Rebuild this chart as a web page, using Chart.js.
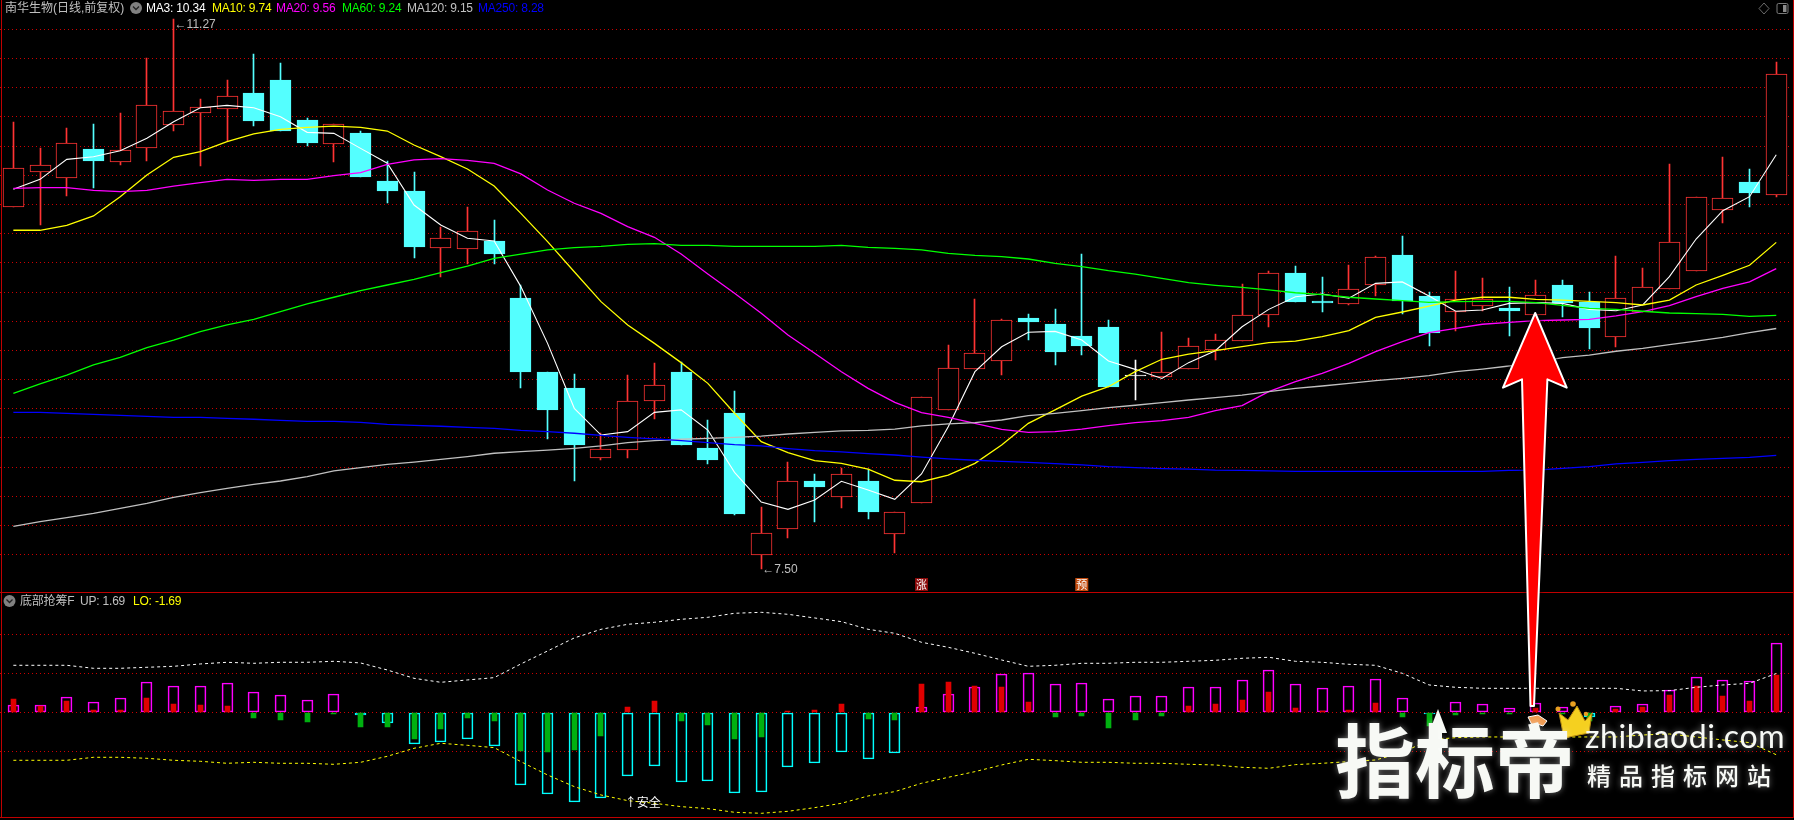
<!DOCTYPE html>
<html lang="zh">
<head>
<meta charset="utf-8">
<title>南华生物</title>
<script src="https://cdn.jsdelivr.net/npm/chart.js@4"></script>
<style>
html,body{margin:0;padding:0;background:#000;width:1794px;height:820px;overflow:hidden}
#stage{position:relative;width:1794px;height:820px;background:#000;overflow:hidden}
canvas{position:absolute;left:0;display:block}
.t{position:absolute;white-space:nowrap;font:12px "Liberation Sans","Noto Sans CJK SC",sans-serif;line-height:14px;letter-spacing:-.2px;color:#c0c0c0}
.rule{position:absolute;background:#c00000}
svg.over{position:absolute;left:0;top:0;pointer-events:none}
.wm{position:absolute;white-space:nowrap;color:#f7f9f5;text-shadow:0 0 6px rgba(255,255,255,.45)}
</style>
</head>
<body>
<div id="stage">
<canvas id="main" width="1794" height="592" style="top:0"></canvas>
<canvas id="sub" width="1794" height="228" style="top:592px"></canvas>

<div class="rule" style="left:1px;top:0;width:1px;height:818px"></div>
<div class="rule" style="left:1793px;top:0;width:1px;height:818px"></div>
<div class="rule" style="left:0;top:592px;width:1794px;height:1px"></div>
<div class="rule" style="left:0;top:817px;width:1794px;height:1px"></div>

<div class="t" style="left:5px;top:1px;letter-spacing:0">南华生物(日线,前复权)</div>
<div class="t" style="left:146px;top:1px;color:#fff">MA3: 10.34</div>
<div class="t" style="left:212px;top:1px;color:#ff0">MA10: 9.74</div>
<div class="t" style="left:276px;top:1px;color:#f0f">MA20: 9.56</div>
<div class="t" style="left:342px;top:1px;color:#0f0">MA60: 9.24</div>
<div class="t" style="left:407px;top:1px;color:#c0c0c0">MA120: 9.15</div>
<div class="t" style="left:478px;top:1px;color:#00f">MA250: 8.28</div>
<div class="t" style="left:20px;top:594px">底部抢筹F</div>
<div class="t" style="left:80px;top:594px">UP: 1.69</div>
<div class="t" style="left:133px;top:594px;color:#ff0">LO: -1.69</div>

<svg class="over" width="1794" height="820" viewBox="0 0 1794 820">
  <defs><filter id="glow" x="-30%" y="-10%" width="160%" height="120%"><feGaussianBlur stdDeviation="2.2"/></filter></defs>
  <circle cx="136" cy="8" r="6" fill="#808080"/><path d="M133 6.5l3 3 3-3" fill="none" stroke="#222" stroke-width="1.3"/>
  <circle cx="9.5" cy="601" r="6" fill="#808080"/><path d="M6.5 599.5l3 3 3-3" fill="none" stroke="#222" stroke-width="1.3"/>
  <path d="M1764 3l5 5.5-5 5.5-5-5.5z" fill="none" stroke="#6a6a6a"/>
  <rect x="1777" y="3.5" width="11" height="10" rx="1.5" fill="none" stroke="#7a7a7a"/><rect x="1783" y="5" width="3.5" height="7" fill="#8a8a8a"/>
  <g>
    <path d="M1535.2 313L1566.7 387.7 1547.4 379.3 1533 706 1531 706 1522 379.3 1503 387.7z" fill="#000" stroke="#000" stroke-width="5" opacity=".55" filter="url(#glow)"/>
    <path d="M1535.2 313L1566.7 387.7 1547.4 379.3 1534 706 1530.5 706 1522 379.3 1503 387.7z" fill="#ff0000" stroke="#ffffff" stroke-width="2" stroke-linejoin="round"/>
  </g>
  <path d="M1438 709l9 24h-5v30h-8v-30h-5z" fill="#f7f9f5"/>
  <path d="M1528 717l10-2 9 6-4 5-6-2-4 3z" fill="#f09a50" stroke="#fff" stroke-width="1"/>
  <path d="M1559 713l9 7 9-14 8 15 7-8-3 20-25 5z" fill="#f5d020" stroke="#b98a10" stroke-width="1"/>
  <circle cx="1558" cy="709" r="2.5" fill="#e8a020"/><circle cx="1573" cy="704" r="2.8" fill="#e8a020"/><circle cx="1586" cy="714" r="2.2" fill="#e8a020"/>
</svg>

<div class="wm" style="left:1335px;top:711px;font:700 80px/90px 'Noto Sans CJK SC',sans-serif">指标帝</div>
<div class="wm" style="left:1585px;top:718px;font:400 32px/36px Lato,'Open Sans',sans-serif;letter-spacing:.6px">zhibiaodi.com</div>
<div class="wm" style="left:1587px;top:760px;font:500 24px/30px 'Noto Sans CJK SC',sans-serif;letter-spacing:8px">精品指标网站</div>
</div>

<script>
// ---------- price pane ----------
const categories = Array.from({length:67},(_,i)=>'D'+(i+1));
const opens = [9.985,10.225,10.183,10.380,10.293,10.389,10.547,10.629,10.656,10.764,
10.853,10.579,10.416,10.490,10.161,10.092,9.704,9.697,9.750,9.359,
8.852,8.742,8.265,8.320,8.655,8.852,8.331,8.571,7.600,7.778,
8.103,7.998,8.105,7.744,7.957,8.594,8.875,8.930,9.222,9.181,
9.099,9.160,8.831,8.820,8.875,9.000,9.067,9.245,9.530,9.338,
9.320,9.446,9.654,9.373,9.263,9.306,9.290,9.245,9.448,9.332,
9.094,9.265,9.418,9.546,9.964,10.154,10.067];
const closes = [10.247,10.268,10.419,10.298,10.371,10.679,10.638,10.665,10.741,10.572,
10.506,10.421,10.549,10.188,10.092,9.708,9.768,9.816,9.660,8.852,
8.592,8.352,8.322,8.651,8.761,8.352,8.249,7.879,7.746,8.103,
8.064,8.151,7.893,7.890,8.678,8.877,8.980,9.206,9.195,8.989,
9.030,8.749,8.824,8.850,9.028,9.069,9.240,9.528,9.332,9.325,
9.418,9.638,9.341,9.119,9.350,9.350,9.270,9.377,9.322,9.153,
9.357,9.432,9.740,10.049,10.042,10.078,10.892];
const highs = [10.565,10.387,10.524,10.551,10.627,11.003,11.27,10.722,10.853,11.031,
10.969,10.595,10.549,10.503,10.298,10.222,9.848,9.982,9.893,9.448,
8.852,8.838,8.432,8.831,8.914,8.920,8.523,8.722,7.927,8.235,
8.153,8.194,8.187,7.890,8.678,9.037,9.352,9.213,9.249,9.284,
9.660,9.208,8.934,9.126,9.085,9.112,9.453,9.544,9.578,9.503,
9.585,9.647,9.784,9.400,9.544,9.496,9.434,9.482,9.482,9.400,
9.647,9.564,10.277,10.049,10.325,10.243,10.976];
const lows = [9.985,9.859,10.060,10.113,10.270,10.298,10.506,10.266,10.432,10.537,
10.506,10.400,10.291,10.188,10.010,9.633,9.503,9.590,9.592,8.742,
8.393,8.105,8.249,8.265,8.530,8.352,8.222,7.872,7.50,7.714,
7.824,7.920,7.845,7.609,7.957,8.594,8.875,8.831,9.071,8.900,
8.968,8.749,8.660,8.820,8.875,8.934,9.067,9.160,9.332,9.263,
9.311,9.373,9.249,9.030,9.133,9.268,9.099,9.245,9.229,9.010,
9.023,9.265,9.418,9.546,9.873,9.982,10.051];

const ma3 = [10.104,10.172,10.309,10.327,10.368,10.453,10.567,10.663,10.679,10.663,
10.601,10.494,10.487,10.384,10.282,9.996,9.859,9.768,9.750,9.437,
9.048,8.603,8.420,8.443,8.575,8.592,8.454,8.164,7.961,7.911,
7.975,8.103,8.043,7.979,8.153,8.477,8.854,9.025,9.124,9.130,
9.071,8.927,8.870,8.808,8.916,8.998,9.162,9.281,9.368,9.386,
9.357,9.459,9.469,9.373,9.268,9.277,9.322,9.327,9.322,9.281,
9.272,9.311,9.505,9.763,9.957,10.053,10.34];
const ma10 = [9.823,9.823,9.857,9.921,10.053,10.202,10.323,10.362,10.430,10.483,
10.515,10.528,10.537,10.528,10.503,10.407,10.327,10.243,10.126,9.939,
9.745,9.539,9.334,9.174,9.048,8.916,8.774,8.569,8.375,8.299,
8.244,8.226,8.187,8.110,8.100,8.146,8.226,8.352,8.500,8.592,
8.687,8.751,8.854,8.939,8.975,8.998,9.025,9.053,9.064,9.094,
9.135,9.226,9.263,9.304,9.345,9.364,9.364,9.350,9.345,9.336,
9.327,9.311,9.345,9.448,9.514,9.583,9.74];
const ma20 = [10.110,10.115,10.115,10.097,10.088,10.097,10.126,10.149,10.172,10.165,
10.172,10.172,10.197,10.218,10.275,10.305,10.314,10.302,10.282,10.209,
10.099,10.008,9.939,9.848,9.775,9.660,9.523,9.391,9.254,9.105,
8.980,8.854,8.740,8.644,8.573,8.541,8.500,8.459,8.438,8.443,
8.461,8.484,8.505,8.518,8.541,8.587,8.621,8.717,8.786,8.843,
8.911,8.991,9.060,9.121,9.151,9.179,9.192,9.204,9.208,9.213,
9.236,9.265,9.306,9.368,9.425,9.469,9.56];
const ma60 = [8.706,8.770,8.831,8.900,8.952,9.019,9.071,9.128,9.174,9.213,
9.265,9.318,9.364,9.409,9.448,9.487,9.532,9.578,9.631,9.660,
9.688,9.704,9.713,9.727,9.731,9.720,9.720,9.713,9.713,9.713,
9.713,9.720,9.706,9.699,9.688,9.665,9.651,9.642,9.626,9.596,
9.574,9.546,9.523,9.494,9.464,9.446,9.432,9.414,9.395,9.382,
9.364,9.352,9.341,9.329,9.334,9.336,9.336,9.327,9.309,9.288,
9.281,9.268,9.256,9.252,9.247,9.233,9.24];
const ma120 = [7.794,7.826,7.854,7.883,7.918,7.952,7.993,8.025,8.055,8.082,
8.105,8.135,8.174,8.196,8.219,8.235,8.253,8.272,8.295,8.306,
8.317,8.329,8.345,8.368,8.381,8.391,8.397,8.404,8.413,8.427,
8.438,8.448,8.452,8.461,8.482,8.496,8.505,8.523,8.553,8.569,
8.587,8.608,8.624,8.642,8.660,8.676,8.694,8.717,8.740,8.756,
8.774,8.793,8.808,8.827,8.854,8.872,8.893,8.918,8.950,8.968,
8.994,9.014,9.039,9.064,9.089,9.121,9.15];
const ma250 = [8.575,8.575,8.569,8.562,8.555,8.548,8.541,8.541,8.534,8.528,
8.521,8.514,8.514,8.507,8.493,8.486,8.480,8.473,8.466,8.452,
8.443,8.432,8.418,8.404,8.393,8.381,8.368,8.354,8.345,8.327,
8.313,8.304,8.292,8.283,8.269,8.256,8.247,8.240,8.233,8.224,
8.215,8.203,8.196,8.190,8.187,8.180,8.178,8.174,8.171,8.171,
8.171,8.171,8.171,8.171,8.171,8.171,8.178,8.180,8.192,8.203,
8.222,8.233,8.244,8.253,8.260,8.267,8.28];
const priceGrid = [11.2,11.0,10.8,10.6,10.4,10.2,10.0,9.8,9.6,9.4,9.2,9.0,8.8,8.6,8.4,8.2,8.0,7.8,7.6];
const signalIndex = [34,40];
const signalText = ['涨','预'];
const signalColor = ['#8a0a0a','#c24c10'];

// ---------- indicator pane ----------
const outerBars = [.305,.305,.654,.436,.610,1.308,1.133,1.133,1.264,.872,
.741,.523,.785,-.102,-.450,-1.366,-1.279,-1.148,-1.453,-3.153,
-3.546,-3.894,-3.720,-2.761,-2.325,-3.022,-2.979,-3.502,-3.458,-2.369,
-2.194,-1.715,-2.020,-1.758,.218,.785,1.090,1.657,1.700,1.221,
1.264,.567,.697,.697,1.090,1.090,1.395,1.831,1.221,1.046,
1.133,1.439,.610,-.073,.436,.349,.174,.392,.218,-.203,
.262,.349,.959,1.526,1.395,1.351,3.008];
const innerBars = [.581,.291,.494,.102,.102,.625,.363,.320,.276,-.247,
-.334,-.421,-.073,-.639,-.639,-1.162,-.727,-.247,-.378,-1.686,
-1.729,-1.642,-1.032,.232,.494,-.378,-.552,-1.162,-1.075,.058,
.102,.363,-.291,-.334,1.235,1.322,1.148,1.104,.450,-.203,
-.160,-.683,-.334,-.160,.276,.363,.538,.886,.189,.058,
.102,.407,-.203,-.596,-.116,-.073,-.073,.189,-.073,-.378,
.145,.232,.756,1.148,.712,.494,1.627];
const upLine = [2.049,2.049,2.049,1.918,1.918,1.962,2.005,2.107,2.180,2.136,
2.180,2.180,2.223,2.151,1.845,1.482,1.308,1.410,1.511,2.107,
2.674,3.240,3.618,3.836,3.923,4.054,4.141,4.316,4.359,4.272,
4.112,3.952,3.618,3.444,3.052,2.834,2.572,2.281,2.005,2.049,
2.136,2.136,2.180,2.180,2.223,2.267,2.354,2.398,2.223,2.180,
2.092,2.049,1.700,1.192,1.090,1.046,1.046,1.046,1.046,1.046,
1.046,.930,.945,1.090,1.192,1.264,1.69];
const loLine = [-2.092,-2.092,-2.092,-1.962,-1.962,-2.005,-2.092,-2.136,-2.223,-2.180,
-2.223,-2.223,-2.267,-2.180,-1.918,-1.569,-1.351,-1.439,-1.540,-2.151,
-2.732,-3.240,-3.604,-3.851,-3.967,-4.112,-4.199,-4.359,-4.403,-4.316,
-4.156,-3.967,-3.647,-3.458,-3.095,-2.834,-2.587,-2.296,-2.049,-2.107,
-2.180,-2.180,-2.223,-2.223,-2.267,-2.296,-2.398,-2.441,-2.281,-2.223,
-2.151,-2.078,-1.758,-1.206,-1.104,-1.075,-1.075,-1.075,-1.075,-1.075,
-1.075,-.988,-.945,-1.075,-1.206,-1.322,-1.85];
const indicatorGrid = [3.4,1.7,0,-1.7];
const noteIndex = 23;
const noteValue = -3.95;
const noteText = '↑安全';

// ---------- colours ----------
const RED='#ff3333', CYAN='#54ffff', WHITE='#ffffff';
const GRID='#cc0000';
const bodyColor = closes.map((c,i)=> c-opens[i]>0.01 ? RED : (opens[i]-c>0.01 ? CYAN : WHITE));
const bodyFill = bodyColor.map(c=> c===RED ? '#000000' : c);

const line=(label,data,color,w=1.3)=>({type:'line',label,data,borderColor:color,borderWidth:w,pointRadius:0,tension:0,fill:false,order:1});

const hidden={display:false};
function gridAxis(min,max,vals){
  return {min,max,display:true,
    afterBuildTicks:s=>{s.ticks=vals.map(v=>({value:v}));},
    afterFit:s=>{s.width=0;},
    ticks:{display:false},
    border:{display:false,dash:[1,3]},
    grid:{color:GRID,lineWidth:1,drawTicks:false,tickLength:0}};
}

// keep every bar on whole device pixels, like the terminal's own drawing
const snapBars={id:'snapBars',beforeDatasetsDraw(chart){
  chart.getSortedVisibleDatasetMetas().forEach(meta=>{
    if(meta.type!=='bar') return;
    meta.data.forEach(el=>{
      el.x=Math.floor(el.x)+0.5;
      el.y=Math.round(el.y);
      el.base=Math.round(el.base);
      if(el.y===el.base) el.base=el.y+1;
    });
  });
}};

const labelFont='12px "Liberation Sans","Noto Sans CJK SC",sans-serif';
const pricePlugin={id:'priceMarks',afterDatasetsDraw(chart){
  const {ctx,scales:{x,y}}=chart;
  ctx.save();
  ctx.font=labelFont; ctx.fillStyle='#c0c0c0'; ctx.textBaseline='middle'; ctx.textAlign='left';
  const hi=highs.indexOf(Math.max(...highs)), lo=lows.indexOf(Math.min(...lows));
  ctx.fillText('←'+highs[hi].toFixed(2),x.getPixelForValue(hi)+1,y.getPixelForValue(highs[hi])+6);
  ctx.fillText('←'+lows[lo].toFixed(2),x.getPixelForValue(lo)+1,y.getPixelForValue(lows[lo]));
  ctx.textAlign='center'; ctx.font='11px "Noto Sans CJK SC",sans-serif';
  signalIndex.forEach((k,n)=>{
    const px=x.getPixelForValue(k);
    ctx.fillStyle=signalColor[n]; ctx.fillRect(px-6.5,578,13,13);
    ctx.fillStyle='#fff'; ctx.fillText(signalText[n],px,584.5);
  });
  ctx.restore();
}};
const subPlugin={id:'subMarks',afterDatasetsDraw(chart){
  const {ctx,scales:{x,y}}=chart;
  ctx.save();
  ctx.font='12px "Noto Sans CJK SC",sans-serif'; ctx.fillStyle='#fff';
  ctx.textAlign='center'; ctx.textBaseline='middle';
  ctx.fillText(noteText,x.getPixelForValue(noteIndex)+15,y.getPixelForValue(noteValue));
  ctx.restore();
}};

const baseOpts={responsive:false,animation:false,devicePixelRatio:1,
  layout:{padding:{left:0,right:4.4,top:0,bottom:0}},
  plugins:{legend:hidden,tooltip:{enabled:false},title:hidden},
  events:[]};

new Chart(document.getElementById('main'),{
  type:'bar',
  data:{labels:categories,datasets:[
    {label:'wick',data:highs.map((h,i)=>[lows[i],h]),backgroundColor:bodyColor,borderWidth:0,barThickness:1,grouped:false,order:6},
    {label:'body',data:opens.map((o,i)=>[o,closes[i]]),backgroundColor:bodyFill,borderColor:bodyColor,borderWidth:1,borderSkipped:false,barThickness:21,grouped:false,order:5},
    line('MA250',ma250,'#0000ff'),
    line('MA120',ma120,'#c0c0c0'),
    line('MA60',ma60,'#00ff00'),
    line('MA20',ma20,'#ff00ff'),
    line('MA10',ma10,'#ffff00'),
    line('MA3',ma3,'#ffffff',1.1)
  ]},
  options:{...baseOpts,
    scales:{x:{display:false,offset:true,grid:hidden},
      y:gridAxis(7.3444,11.4008,priceGrid)}},
  plugins:[snapBars,pricePlugin]
});

const outerColor=outerBars.map(v=>v>=0?'#ff00ff':'#00ffff');
const innerColor=innerBars.map(v=>v>=0?'#e00000':'#00b010');
new Chart(document.getElementById('sub'),{
  type:'bar',
  data:{labels:categories,datasets:[
    {label:'inner',data:innerBars,backgroundColor:innerColor,borderWidth:0,barThickness:5,grouped:false,order:3},
    {label:'outer',data:outerBars,backgroundColor:'rgba(0,0,0,0)',borderColor:outerColor,borderWidth:1,borderSkipped:false,barThickness:11,grouped:false,order:4},
    {type:'line',label:'UP',data:upLine,borderColor:'#ffffff',borderWidth:1,borderDash:[3,3],pointRadius:0,tension:0,order:1},
    {type:'line',label:'LO',data:loLine,borderColor:'#ffff00',borderWidth:1,borderDash:[3,3],pointRadius:0,tension:0,order:1}
  ]},
  options:{...baseOpts,
    scales:{x:{display:false,offset:true,grid:hidden},
      y:gridAxis(-4.695,5.244,indicatorGrid)}},
  plugins:[snapBars,subPlugin]
});
</script>
</body>
</html>
